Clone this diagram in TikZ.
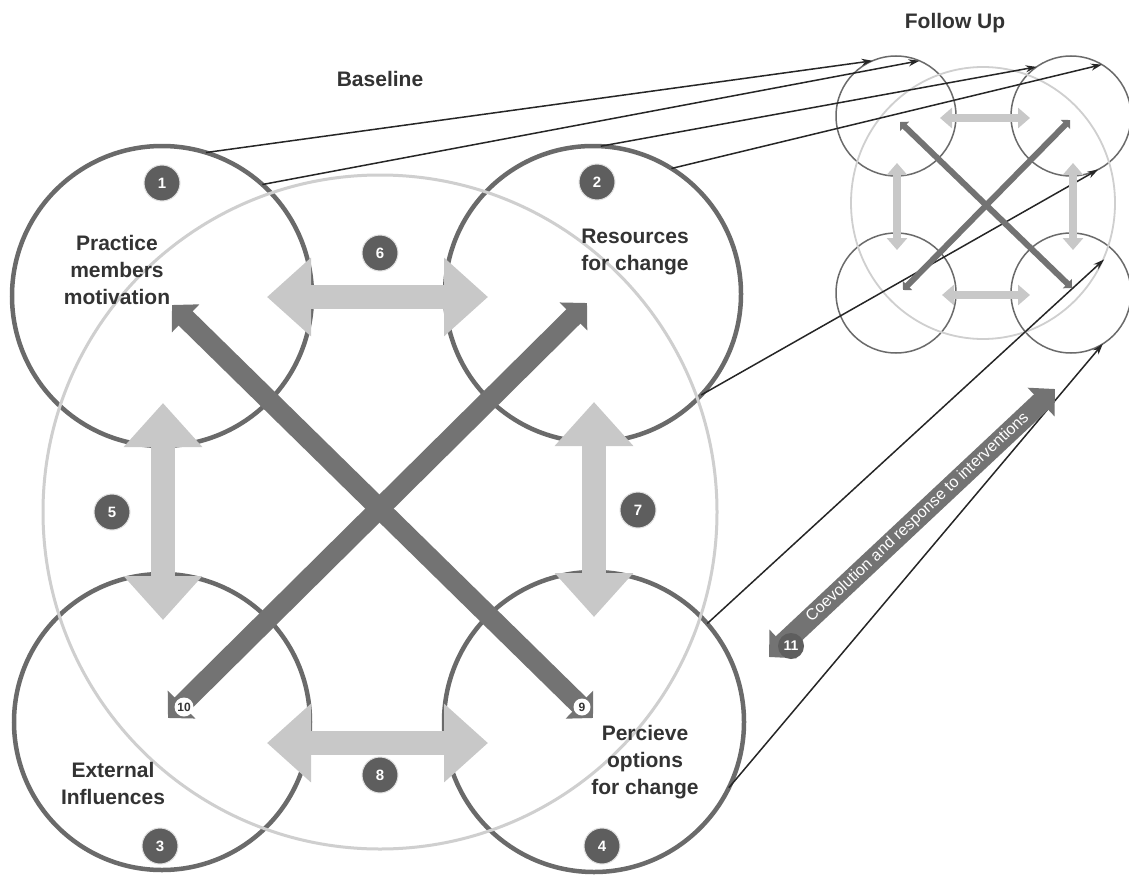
\documentclass[tikz,border=0pt]{standalone}
\usepackage{fontspec}
\setmainfont{Liberation Sans}
\usetikzlibrary{arrows.meta,shapes.geometric}
\definecolor{circc}{HTML}{6A6A6A}
\definecolor{ringc}{HTML}{CFCFCF}
\definecolor{lightarr}{HTML}{C8C8C8}
\definecolor{darkarr}{HTML}{737373}
\definecolor{badgec}{HTML}{5E5E5E}
\definecolor{textc}{HTML}{333333}
\begin{document}
\begin{tikzpicture}[x=1pt,y=-1pt,
  bigcirc/.style={circle,draw=circc,line width=4.5pt,minimum size=#1,inner sep=0pt,outer sep=0pt},
  smallcirc/.style={circle,draw=circc,line width=1.5pt,minimum size=120pt,inner sep=0pt,outer sep=0pt},
  lightring/.style={draw=ringc,line width=3pt},
  lightarrow/.style={draw=lightarr,line width=24pt,{Triangle[length=44pt,width=76pt]}-{Triangle[length=44pt,width=76pt]}},
  darkarrow/.style={draw=darkarr,line width=20pt,{Triangle[angle=90:27pt]}-{Triangle[angle=90:27pt]}},
  slight/.style={draw=lightarr,line width=8pt,{Triangle[length=12pt,width=20pt]}-{Triangle[length=12pt,width=20pt]}},
  sdark/.style={draw=darkarr,line width=6pt,{Triangle[angle=90:9pt]}-{Triangle[angle=90:9pt]}},
  blackline/.style={draw=black!85,line width=1.5pt,-{Stealth[length=11pt,width=7pt]}},
  badge/.style={circle,fill=badgec,draw=white!80!badgec,line width=1pt,text=white,font=\bfseries\fontsize{15}{15}\selectfont,minimum size=36pt,inner sep=0pt},
  wbadge/.style={circle,fill=white,text=textc,font=\bfseries\fontsize{12}{12}\selectfont,minimum size=17pt,inner sep=0pt},
  lbl/.style={text=textc,font=\bfseries\fontsize{21}{27}\selectfont,align=center}
]
\useasboundingbox (0,0) rectangle (1129,875);
\fill[white] (0,0) rectangle (1129,875);

% big circles
\node[bigcirc=300pt] (c1) at (162,296) {};
\node[bigcirc=296pt] (c2) at (593,294) {};
\node[bigcirc=296pt] (c3) at (162,722) {};
\node[bigcirc=300pt] (c4) at (594,722) {};
\node[circle,lightring,minimum size=674pt,inner sep=0pt] (ring) at (380,512) {};

% follow-up small diagram
\node[smallcirc] (s1) at (896,116) {};
\node[smallcirc] (s2) at (1071,116) {};
\node[smallcirc] (s3) at (896,293) {};
\node[smallcirc] (s4) at (1071,293) {};
\node[ellipse,draw=ringc,line width=1.8pt,minimum width=264pt,minimum height=272pt,inner sep=0pt] (se) at (983,203) {};

% connectors baseline -> follow up
\draw[blackline] (c1.73) -- (s1.113);
\draw[blackline] (c1.48) -- (s1.67);
\draw[blackline] (c2.87) -- (s2.125);
\draw[blackline] (c2.58) -- (s2.59);
\draw[blackline] (c2.-43) -- (s2.-63);
\draw[blackline] (c4.41) -- (se.-25);
\draw[blackline] (c4.-26) -- (s4.-58);

% light double arrows (baseline)
\coordinate (a6l) at (267,297); \coordinate (a6r) at (488,297);
\coordinate (a8l) at (267,743); \coordinate (a8r) at (488,743);
\coordinate (a5t) at (163,403); \coordinate (a5b) at (163,620);
\coordinate (a7t) at (594,402); \coordinate (a7b) at (594,617);
\draw[lightarrow] (a6l) -- (a6r);
\draw[lightarrow] (a8l) -- (a8r);
\draw[lightarrow] (a5t) -- (a5b);
\draw[lightarrow] (a7t) -- (a7b);

% dark diagonal arrows
\coordinate (a9s) at (172,305); \coordinate (a9e) at (593,718);
\coordinate (a10s) at (168,718); \coordinate (a10e) at (587,303);
\draw[darkarrow] (a9s) -- (a9e);
\draw[darkarrow] (a10s) -- (a10e);

% small arrows
\coordinate (t1) at (940,118); \coordinate (t2) at (1030,118);
\coordinate (b1) at (942,295); \coordinate (b2) at (1030,295);
\coordinate (l1) at (897,163); \coordinate (l2) at (897,250);
\coordinate (r1) at (1073,163); \coordinate (r2) at (1073,250);
\draw[slight] (t1) -- (t2);
\draw[slight] (b1) -- (b2);
\draw[slight] (l1) -- (l2);
\draw[slight] (r1) -- (r2);
\coordinate (d1) at (900,122); \coordinate (d2) at (1072,288);
\coordinate (d3) at (903,290); \coordinate (d4) at (1070,120);
\draw[sdark] (d1) -- (d2);
\draw[sdark] (d3) -- (d4);

% arrow 11
\coordinate (e1) at (769,657); \coordinate (e2) at (1055,389);
\draw[darkarrow,line width=21pt] (e1) -- node[pos=0.52,sloped,text=white,font=\fontsize{16}{16}\selectfont,inner sep=0pt] (t11) {Coevolution and response to interventions} (e2);
\node[circle,fill=badgec,text=white,font=\bfseries\fontsize{14}{14}\selectfont,minimum size=26pt,inner sep=0pt] (n11) at (791,646) {11};

% badges
\node[badge] (n1) at (162,183) {1};
\node[badge] (n2) at (597,182) {2};
\node[badge] (n3) at (160,846) {3};
\node[badge] (n4) at (602,846) {4};
\node[badge] (n5) at (112,512) {5};
\node[badge] (n6) at (380,253) {6};
\node[badge] (n7) at (638,510) {7};
\node[badge] (n8) at (380,775) {8};
\node[wbadge] (n9) at (582,707) {9};
\node[wbadge,minimum size=19pt] (n10) at (184,707) {10};

% labels
\node[lbl] (lab1) at (117,270) {Practice\\members\\motivation};
\node[lbl] (lab2) at (635,252) {Resources\\for change};
\node[lbl] (lab3) at (113,783) {External\\Influences};
\node[lbl] (lab4) at (645,762) {Percieve\\options\\for change};
\node[lbl] (base) at (380,79) {Baseline};
\node[lbl] (fup) at (955,23) {Follow Up};
\end{tikzpicture}
\end{document}
